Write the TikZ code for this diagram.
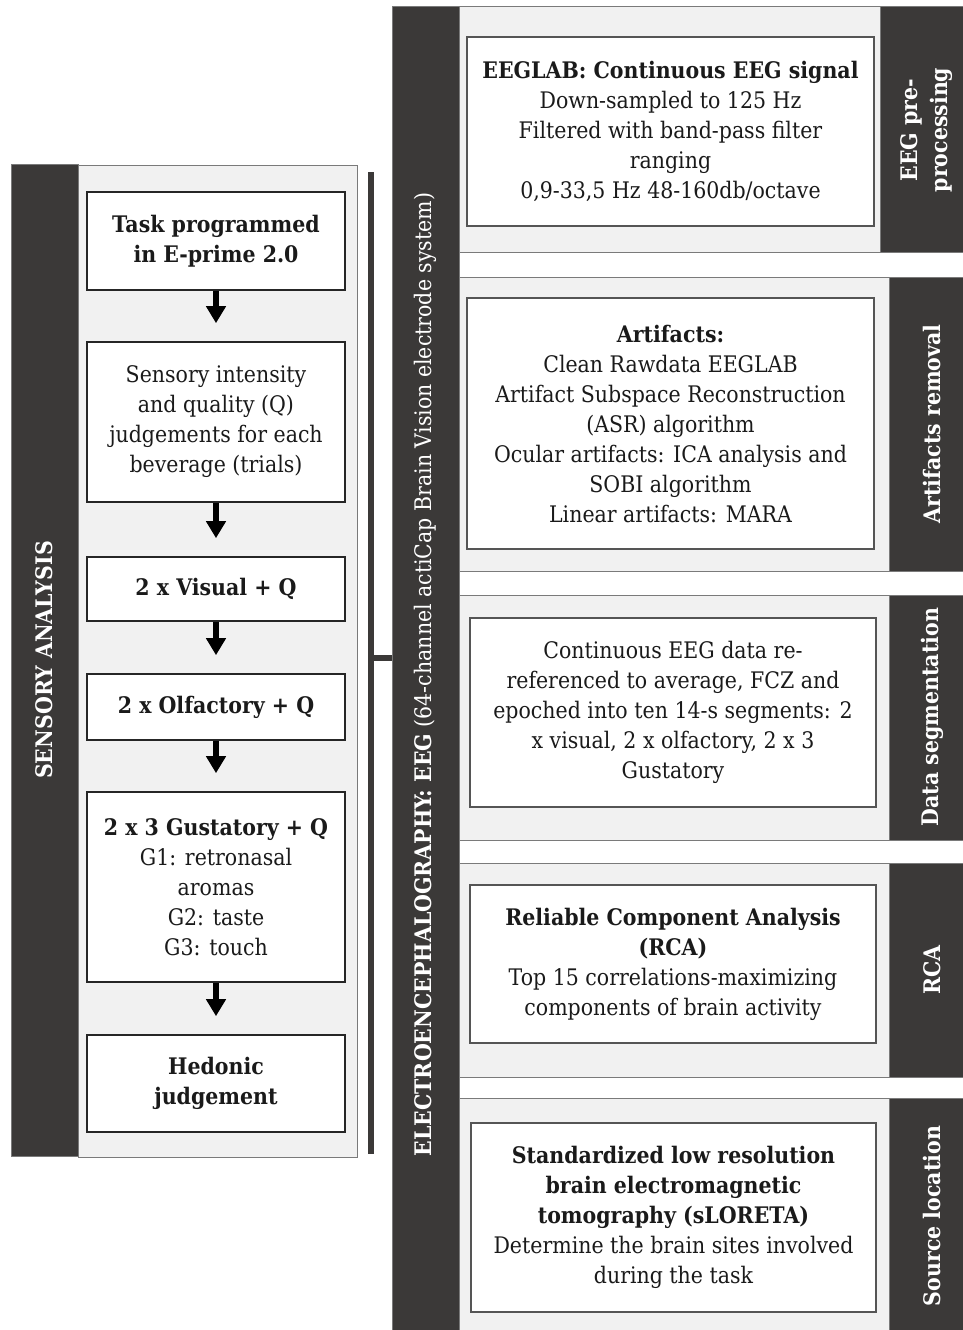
\documentclass[tikz,border=0pt]{standalone}
\usepackage{fontspec}
\setmainfont{DejaVu Serif}[FakeStretch=0.9]
\usetikzlibrary{arrows.meta}

\definecolor{barcol}{HTML}{3B3938}
\definecolor{panelcol}{HTML}{F1F1F1}
\definecolor{edgecol}{HTML}{7A7A7A}
\definecolor{boxedge}{HTML}{555555}
\definecolor{inkcol}{HTML}{1A1A1A}

\newcommand{\bodysize}{\fontsize{22.8}{30}\selectfont}

\begin{document}
\begin{tikzpicture}[x=1pt,y=-1pt,
  panel/.style={fill=panelcol,draw=edgecol,line width=1pt},
  darkbar/.style={fill=barcol,draw=edgecol,line width=1pt},
  bartext/.style={text=white,font=\bodysize\bfseries,align=center,inner sep=0pt},
  stepbox/.style={draw=black!85,fill=white,line width=1.6pt,align=center,
    text=inkcol,font=\bodysize,inner sep=0pt,minimum width=258pt},
  infobox/.style={draw=boxedge,fill=white,line width=1.8pt,align=center,
    text=inkcol,font=\bodysize,inner sep=0pt},
  flow/.style={line width=5.5pt,black,-{Triangle[width=19pt,length=17pt]},shorten >=18pt},
  bracket/.style={line width=6pt,barcol}]

\useasboundingbox (0,0) rectangle (963,1330);
\clip (0,0) rectangle (963,1330);

% ---------- sensory analysis block ----------
\draw[panel] (78,165) rectangle (357,1157);
\node[darkbar,rotate=90,minimum width=992pt,minimum height=67pt,inner sep=0pt,
  text=white,font=\bodysize\bfseries] (sens) at (44.5,660) {SENSORY ANALYSIS};

\node[stepbox,minimum height=98pt]  (l1) at (216,241)   {\textbf{Task programmed}\\\textbf{in E-prime 2.0}};
\node[stepbox,minimum height=160pt] (l2) at (216,422)   {Sensory intensity\\and quality (Q)\\judgements for each\\beverage (trials)};
\node[stepbox,minimum height=64pt]  (l3) at (216,589)   {\textbf{2 x Visual + Q}};
\node[stepbox,minimum height=66pt]  (l4) at (216,707)   {\textbf{2 x Olfactory + Q}};
\node[stepbox,minimum height=190pt] (l5) at (216,887)   {\textbf{2 x 3 Gustatory + Q}\\G1: retronasal\\aromas\\G2: taste\\G3: touch};
\node[stepbox,minimum height=97pt]  (l6) at (216,1083.5){\textbf{Hedonic}\\\textbf{judgement}};

\draw[flow] (l1.south) -- (l2.north);
\draw[flow] (l2.south) -- (l3.north);
\draw[flow] (l3.south) -- (l4.north);
\draw[flow] (l4.south) -- (l5.north);
\draw[flow] (l5.south) -- (l6.north);

% ---------- EEG block ----------
\node[darkbar,rotate=90,minimum width=1335pt,minimum height=67pt,inner sep=0pt,
  text=white,font=\bodysize] (eeg) at (425.5,674.5)
  {\textbf{ELECTROENCEPHALOGRAPHY: EEG} (64-channel actiCap Brain Vision electrode system)};

% bracket joining both blocks
\coordinate (btop) at (371,172);
\coordinate (bbot) at (371,1154);
\coordinate (bmid) at (371,657.5);
\draw[bracket] (btop) -- (bbot);
\draw[bracket] (bmid) -- (bmid -| eeg.north);

% stage panels
\draw[panel] (459,7) rectangle (880,252);
\draw[darkbar] (880,7) rectangle (975,252);
\draw[panel] (459,277) rectangle (889,571);
\draw[darkbar] (889,277) rectangle (975,571);
\draw[panel] (459,595) rectangle (889,840);
\draw[darkbar] (889,595) rectangle (975,840);
\draw[panel] (459,863) rectangle (889,1077);
\draw[darkbar] (889,863) rectangle (975,1077);
\draw[panel] (459,1098) rectangle (889,1345);
\draw[darkbar] (889,1098) rectangle (975,1345);

\node[bartext,rotate=90] (s1) at (927,130)  {EEG pre-\\processing};
\node[bartext,rotate=90] (s2) at (932,424)  {Artifacts removal};
\node[bartext,rotate=90] (s3) at (932,717)  {Data segmentation};
\node[bartext,rotate=90] (s4) at (932,970)  {RCA};
\node[bartext,rotate=90] (s5) at (932,1216) {Source location};

\node[infobox,minimum width=407pt,minimum height=189pt] (r1) at (670.5,131.5)
  {\textbf{EEGLAB: Continuous EEG signal}\\Down-sampled to 125 Hz\\Filtered with band-pass filter\\ranging\\0,9-33,5 Hz 48-160db/octave};
\node[infobox,minimum width=407pt,minimum height=251pt] (r2) at (670.5,423.5)
  {\textbf{Artifacts:}\\Clean Rawdata EEGLAB\\Artifact Subspace Reconstruction\\(ASR) algorithm\\Ocular artifacts: ICA analysis and\\SOBI algorithm\\Linear artifacts: MARA};
\node[infobox,minimum width=406pt,minimum height=189pt] (r3) at (673,712.5)
  {Continuous EEG data re-\\referenced to average, FCZ and\\epoched into ten 14-s segments: 2\\x visual, 2 x olfactory, 2 x 3\\Gustatory};
\node[infobox,minimum width=406pt,minimum height=158pt] (r4) at (673,964)
  {\textbf{Reliable Component Analysis}\\\textbf{(RCA)}\\Top 15 correlations-maximizing\\components of brain activity};
\node[infobox,minimum width=405pt,minimum height=189pt] (r5) at (673.5,1217.5)
  {\textbf{Standardized low resolution}\\\textbf{brain electromagnetic}\\\textbf{tomography (sLORETA)}\\Determine the brain sites involved\\during the task};
\end{tikzpicture}
\end{document}
